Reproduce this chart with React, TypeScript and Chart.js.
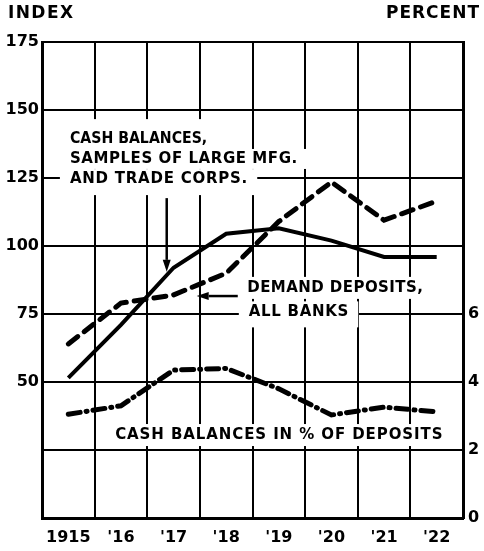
import React, { useEffect, useRef } from 'react';
import { Chart, registerables } from 'chart.js';

Chart.register(...registerables);

// ---- data ----
const years = ['1915', "'16", "'17", "'18", "'19", "'20", "'21", "'22"];
const cashBalancesIndex = [51.5, 71, 92, 104.5, 106.5, 102, 96, 96];
const demandDepositsIndex = [64, 79, 82, 90, 109, 123.5, 109.5, 116.5];
const cashPctOfDeposits = [3.05, 3.3, 4.35, 4.4, 3.8, 3.03, 3.26, 3.12];
const indexTicks = [50, 75, 100, 125, 150, 175];
const percentTicks = [0, 2, 4, 6];

// ---- annotation layout (category index / index-scale units) ----
const notes = [
  { text: 'CASH BALANCES,', x0: 0.03, x1: 2.64, y: 139.3, padTop: 20, padBottom: 10 },
  { text: 'SAMPLES OF LARGE MFG.', x0: 0.03, x1: 4.35, y: 132, padTop: 10, padBottom: 10 },
  { text: 'AND TRADE CORPS.', x0: 0.03, x1: 3.4, y: 124.6, padTop: 10, padBottom: 16 },
  { text: 'DEMAND DEPOSITS,', x0: 3.4, x1: 6.74, y: 84.6, padTop: 11, padBottom: 11 },
  { text: 'ALL BANKS', x0: 3.43, x1: 5.32, y: 75.6, padTop: 11, padBottom: 15 },
  { text: 'CASH BALANCES IN % OF DEPOSITS', x0: 0.89, x1: 7.11, y: 30.5, padTop: 11, padBottom: 11 },
];
const arrows = [
  { fromX: 1.87, fromY: 117.6, toX: 1.87, toY: 90.5 },
  { fromX: 3.22, fromY: 81.6, toX: 2.44, toY: 81.6 },
];

const FONT = '"DejaVu Sans", sans-serif';

function fitText(ctx: CanvasRenderingContext2D, text: string, left: number, right: number, cy: number, size: number) {
  ctx.save();
  ctx.font = `bold ${size}px ${FONT}`;
  (ctx as any).letterSpacing = '0px';
  const w = ctx.measureText(text).width;
  const target = right - left;
  ctx.fillStyle = '#000';
  ctx.textAlign = 'left';
  ctx.textBaseline = 'middle';
  if (w > target) {
    ctx.translate(left, cy);
    ctx.scale(target / w, 1);
    ctx.fillText(text, 0, 0);
  } else {
    const ls = (target - w) / Math.max(1, text.length - 1);
    (ctx as any).letterSpacing = `${ls}px`;
    ctx.fillText(text, left, cy);
  }
  ctx.restore();
}

const annotPlugin = {
  id: 'annot',
  beforeDatasetsDraw(chart: any) {
    const { ctx, scales } = chart;
    const xs = scales.x, ys = scales.y;
    ctx.save();
    ctx.fillStyle = '#fff';
    for (const n of notes) {
      const l = xs.getPixelForValue(n.x0) - 10;
      const r = xs.getPixelForValue(n.x1) + 10;
      const cy = ys.getPixelForValue(n.y);
      ctx.fillRect(l, cy - n.padTop, r - l, n.padTop + n.padBottom);
    }
    ctx.restore();
  },
  afterDatasetsDraw(chart: any) {
    const { ctx, scales } = chart;
    const xs = scales.x, ys = scales.y;
    for (const n of notes) {
      fitText(ctx, n.text, xs.getPixelForValue(n.x0), xs.getPixelForValue(n.x1), ys.getPixelForValue(n.y), 15);
    }
    ctx.save();
    ctx.strokeStyle = '#000';
    ctx.fillStyle = '#000';
    ctx.lineWidth = 2.5;
    for (const a of arrows) {
      const x0 = xs.getPixelForValue(a.fromX), y0 = ys.getPixelForValue(a.fromY);
      const x1 = xs.getPixelForValue(a.toX), y1 = ys.getPixelForValue(a.toY);
      const ang = Math.atan2(y1 - y0, x1 - x0);
      const hl = 12, hw = 4;
      const bx = x1 - hl * Math.cos(ang), by = y1 - hl * Math.sin(ang);
      ctx.beginPath();
      ctx.moveTo(x0, y0);
      ctx.lineTo(bx, by);
      ctx.stroke();
      ctx.beginPath();
      ctx.moveTo(x1, y1);
      ctx.lineTo(bx + hw * Math.sin(ang), by - hw * Math.cos(ang));
      ctx.lineTo(bx - hw * Math.sin(ang), by + hw * Math.cos(ang));
      ctx.closePath();
      ctx.fill();
    }
    ctx.restore();
  },
  afterDraw(chart: any) {
    const { ctx } = chart;
    fitText(ctx, 'INDEX', 8, 73, 14, 17);
    fitText(ctx, 'PERCENT', 386, 479, 14, 17);
  },
};

export default function App() {
  const ref = useRef<HTMLCanvasElement | null>(null);
  useEffect(() => {
    document.body.style.margin = '0';
    if (!ref.current) return;
    const tickFont = { family: FONT, size: 16, weight: 'bold' as const };
    const chart = new Chart(ref.current, {
      type: 'line',
      data: {
        labels: years,
        datasets: [
          {
            label: 'Cash balances, samples of large mfg. and trade corps.',
            data: cashBalancesIndex,
            borderColor: '#000',
            borderWidth: 4,
            pointRadius: 0,
            tension: 0,
            yAxisID: 'y',
          },
          {
            label: 'Demand deposits, all banks',
            data: demandDepositsIndex,
            borderColor: '#000',
            borderWidth: 5,
            borderDash: [12, 8],
            borderCapStyle: 'round',
            pointRadius: 0,
            tension: 0,
            yAxisID: 'y',
          },
          {
            label: 'Cash balances in % of deposits',
            data: cashPctOfDeposits,
            borderColor: '#000',
            borderWidth: 5,
            borderDash: [12, 6, 1, 6],
            borderCapStyle: 'round',
            pointRadius: 0,
            tension: 0,
            yAxisID: 'y1',
          },
        ],
      },
      options: {
        animation: false,
        responsive: false,
        maintainAspectRatio: false,
        layout: { padding: { top: 42, left: 0, right: 0, bottom: 0 } },
        plugins: { legend: { display: false }, tooltip: { enabled: false }, title: { display: false } },
        scales: {
          x: {
            type: 'category',
            offset: true,
            grid: { offset: true, color: '#000', lineWidth: 2, drawTicks: false },
            border: { color: '#000', width: 3 },
            ticks: { color: '#000', font: tickFont, padding: 10, maxRotation: 0, autoSkip: false },
            afterFit: (s: any) => { s.height = 33; },
          },
          y: {
            position: 'left',
            min: 0,
            max: 175,
            grid: { color: '#000', lineWidth: 2, drawTicks: false },
            border: { color: '#000', width: 3 },
            ticks: {
              stepSize: 25,
              color: '#000',
              font: tickFont,
              padding: 3,
              callback: (v: any) => (indexTicks.includes(Number(v)) ? String(v) : ''),
            },
            afterFit: (s: any) => { s.width = 42; },
          },
          y1: {
            position: 'right',
            min: 0,
            max: 14,
            grid: { display: false, drawTicks: false },
            border: { color: '#000', width: 3 },
            ticks: {
              stepSize: 2,
              color: '#000',
              font: tickFont,
              padding: 5,
              callback: (v: any) => (percentTicks.includes(Number(v)) ? String(v) : ''),
            },
            afterFit: (s: any) => { s.width = 21; },
          },
        },
      } as any,
      plugins: [annotPlugin],
    });
    return () => chart.destroy();
  }, []);
  return (
    <div style={{ width: 484, height: 551, background: '#fff' }}>
      <canvas ref={ref} width={484} height={551} style={{ display: 'block', width: 484, height: 551 }} />
    </div>
  );
}
